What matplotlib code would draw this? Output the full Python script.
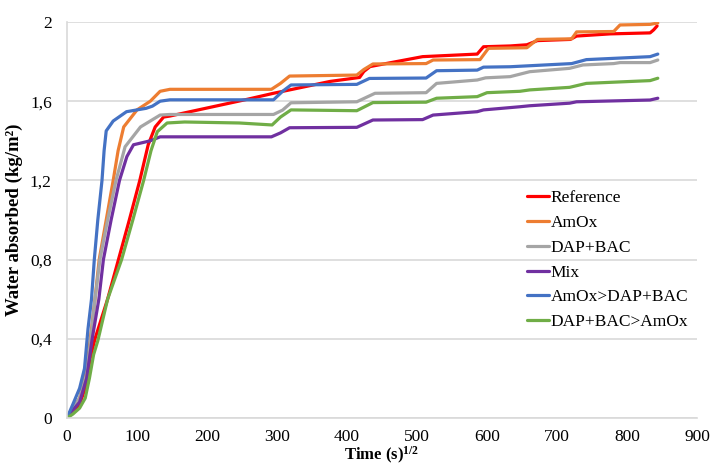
import matplotlib
matplotlib.use("Agg")
import matplotlib.pyplot as plt
import numpy as np

plt.rcParams['font.family'] = ['Liberation Serif', 'DejaVu Serif']
plt.rcParams['mathtext.fontset'] = 'custom'
plt.rcParams['mathtext.rm'] = 'Liberation Serif:bold'
plt.rcParams['mathtext.bf'] = 'Liberation Serif:bold'
plt.rcParams['mathtext.default'] = 'rm'

# Datos
ref_x = [0, 8.5, 18, 26, 33, 40, 58, 73.5, 89, 104, 116, 126, 138, 147, 258, 295, 376, 418, 424, 433,
         508, 586, 595, 633, 657, 672, 719, 728, 776, 833, 838, 843]
ref_y = [0, 0.03, 0.07, 0.15, 0.3, 0.4, 0.6, 0.8, 1.0, 1.2, 1.38, 1.47, 1.52, 1.525, 1.61, 1.64, 1.70, 1.72, 1.75, 1.775,
         1.825, 1.838, 1.875, 1.879, 1.885, 1.906, 1.912, 1.929, 1.94, 1.945, 1.96, 1.98]

amox_x = [0, 8.5, 18, 28, 35, 40, 46, 56, 66, 73, 81, 100, 119, 133, 147, 292, 305, 318, 414, 424, 437,
          513, 523, 590, 602, 657, 672, 721, 728, 781, 790, 833, 844]
amox_y = [0, 0.05, 0.1, 0.25, 0.45, 0.6, 0.8, 1.0, 1.2, 1.35, 1.47, 1.556, 1.60, 1.65, 1.66, 1.66, 1.69, 1.727, 1.732, 1.76, 1.788,
          1.79, 1.808, 1.81, 1.867, 1.87, 1.912, 1.915, 1.95, 1.952, 1.985, 1.988, 1.995]

dap_x = [0, 8.5, 18, 28, 34, 40, 47, 58, 70, 83, 105, 133, 147, 295, 308, 320, 414, 440, 513, 528,
         586, 598, 633, 661, 718, 737, 781, 790, 833, 844]
dap_y = [0, 0.05, 0.1, 0.22, 0.4, 0.6, 0.8, 1.0, 1.2, 1.37, 1.47, 1.53, 1.533, 1.533, 1.555, 1.592, 1.597, 1.64, 1.643, 1.69,
         1.707, 1.718, 1.724, 1.749, 1.766, 1.783, 1.79, 1.795, 1.795, 1.808]

mix_x = [0, 8.5, 18, 28, 36, 45.5, 52, 63, 75, 85.5, 95, 119, 133, 292, 305, 318, 414, 437, 508, 523,
         586, 595, 647, 661, 718, 728, 833, 844]
mix_y = [0, 0.04, 0.08, 0.2, 0.4, 0.6, 0.8, 1.0, 1.2, 1.32, 1.38, 1.40, 1.42, 1.42, 1.44, 1.466, 1.468, 1.505, 1.507, 1.53,
         1.547, 1.556, 1.572, 1.577, 1.59, 1.597, 1.606, 1.615]

amox_dap_x = [0, 8.5, 18, 25, 30, 35, 39, 44, 50, 53, 56, 66, 85, 113, 122, 133, 147, 286, 295, 308, 320,
              414, 432, 513, 528, 586, 595, 633, 721, 742, 833, 844]
amox_dap_y = [0, 0.07, 0.15, 0.25, 0.45, 0.6, 0.8, 1.0, 1.2, 1.35, 1.45, 1.50, 1.547, 1.564, 1.575, 1.60, 1.607, 1.607, 1.607, 1.65, 1.682,
              1.685, 1.715, 1.717, 1.754, 1.757, 1.772, 1.774, 1.79, 1.81, 1.825, 1.838]

dap_amox_x = [0, 8.5, 18, 26, 32, 38, 44, 58, 78, 94, 109.5, 120, 129, 143, 168, 246, 293, 305, 320,
              414, 437, 513, 528, 586, 600, 647, 661, 718, 742, 833, 844]
dap_amox_y = [0, 0.02, 0.05, 0.1, 0.2, 0.32, 0.39, 0.6, 0.8, 1.0, 1.2, 1.35, 1.446, 1.49, 1.495, 1.49, 1.48, 1.52, 1.556,
              1.552, 1.593, 1.595, 1.615, 1.623, 1.643, 1.65, 1.657, 1.67, 1.69, 1.704, 1.716]

etiquetas = ["Reference", "AmOx", "DAP+BAC", "Mix", "AmOx>DAP+BAC", "DAP+BAC>AmOx"]
colores = ["#FF0000", "#ED7D31", "#A5A5A5", "#7030A0", "#4472C4", "#70AD47"]
series = [(ref_x, ref_y), (amox_x, amox_y), (dap_x, dap_y), (mix_x, mix_y),
          (amox_dap_x, amox_dap_y), (dap_amox_x, dap_amox_y)]

yticks = [0, 0.4, 0.8, 1.2, 1.6, 2]
ytick_labels = ["0", "0,4", "0,8", "1,2", "1,6", "2"]
xticks = [0, 100, 200, 300, 400, 500, 600, 700, 800, 900]

fig = plt.figure(figsize=(7.13, 4.70), dpi=100)
ax = fig.add_axes([67/713, 52/470, 630/713, 396/470])

for (xs, ys), lab, col in zip(series, etiquetas, colores):
    ax.plot(xs, ys, color=col, lw=2.3, label=lab, solid_joinstyle='round', solid_capstyle='round')

ax.set_xlim(0, 900)
ax.set_ylim(0, 2)
ax.set_yticks(yticks)
ax.set_yticklabels(ytick_labels)
ax.set_xticks(xticks)
ax.grid(axis='y', color='#D9D9D9', lw=1.2)
ax.set_axisbelow(True)
for s in ['top', 'right']:
    ax.spines[s].set_visible(False)
for s in ['left', 'bottom']:
    ax.spines[s].set_color('#D9D9D9')
    ax.spines[s].set_linewidth(1.2)
ax.tick_params(length=0, labelsize=12.5, pad=11)
ax.tick_params(axis='x', pad=8)

ax.set_xlabel(r"Time (s)$^{1/2}$", fontsize=12, fontweight='bold', labelpad=0)
ax.set_ylabel("Water absorbed (kg/m²)", fontsize=13.5, fontweight='bold', labelpad=5)

leg = ax.legend(loc='upper left', bbox_to_anchor=(527/713, (470-190)/470),
                bbox_transform=fig.transFigure, frameon=False, fontsize=12.5,
                handlelength=1.25, handletextpad=0.1, labelspacing=0.5,
                borderpad=0, borderaxespad=0)

fig.savefig("out.png", dpi=100)
